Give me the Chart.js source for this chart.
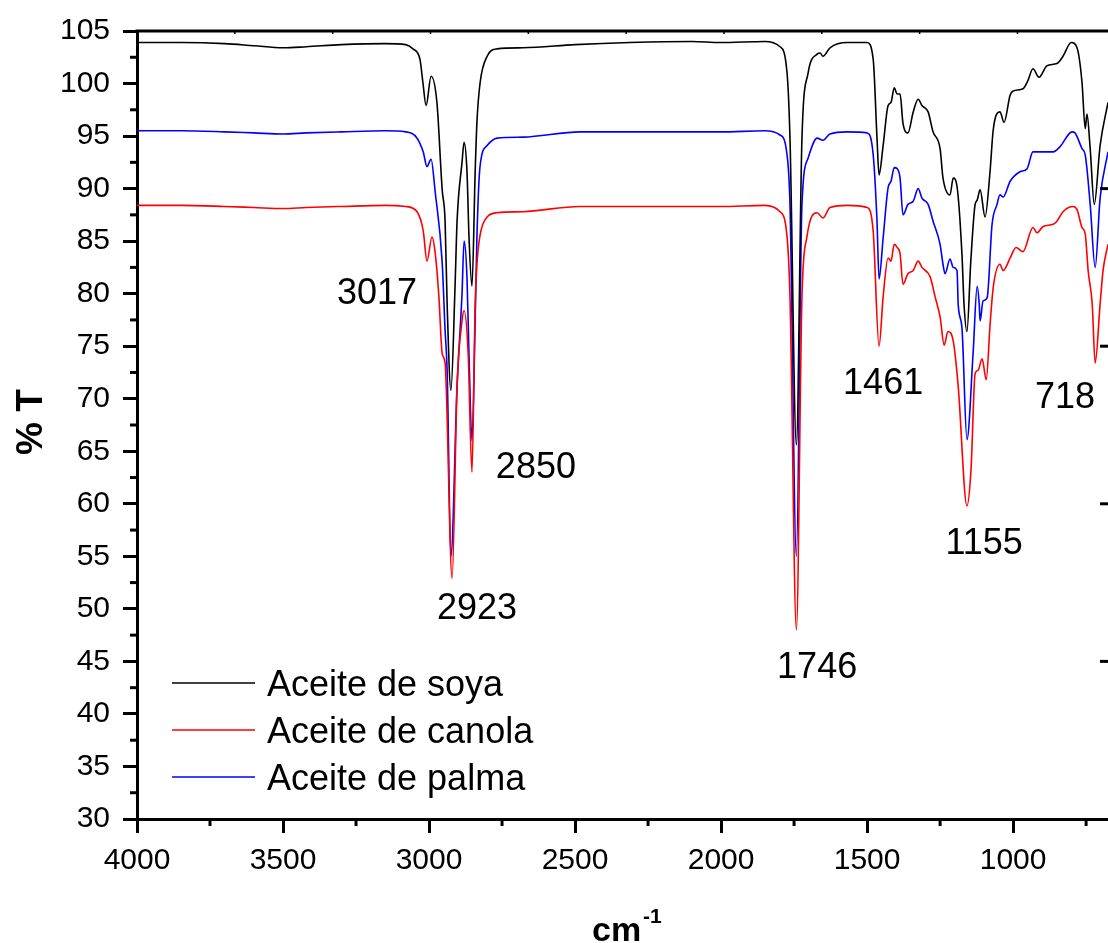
<!DOCTYPE html>
<html>
<head>
<meta charset="utf-8">
<script src="https://cdn.jsdelivr.net/npm/chart.js@4.4.1/dist/chart.umd.min.js"></script>
<style>
  html, body { margin: 0; padding: 0; background: #fff; overflow: hidden; }
  canvas { display: block; }
</style>
</head>
<body>
<canvas id="ftir" width="1108" height="943"></canvas>
<script>
// FTIR spectra of three vegetable oils (% transmittance vs wavenumber)

const FONT = '"Liberation Sans", Arial, sans-serif';

// tick values
const xTickValues = [4000, 3500, 3000, 2500, 2000, 1500, 1000];
const xMinorTicks = [3750, 3250, 2750, 2250, 1750, 1250, 750];
const topTicks = [3665, 3330, 2995, 2660, 2325, 1990, 1655, 1320, 985];
const rightTicks = [45, 60, 75, 90];

// Aceite de soya (black)
const soyaX = [4000, 3850, 3700, 3600, 3500, 3420, 3300, 3150, 3080, 3055, 3031, 3021, 3010, 2993, 2973, 2955, 2945, 2938, 2925, 2911, 2904, 2887, 2880, 2870, 2863, 2853, 2842, 2836, 2825, 2801, 2767, 2678, 2500, 2312, 2100, 2003, 1850, 1798, 1774, 1764, 1742, 1723, 1702, 1671, 1661, 1651, 1627, 1568, 1500, 1479, 1466, 1459, 1445, 1428, 1418, 1407, 1397, 1387, 1377, 1360, 1342, 1325, 1312, 1291, 1274, 1250, 1240, 1216, 1205, 1192, 1175, 1168, 1158, 1145, 1130, 1123, 1113, 1096, 1079, 1068, 1045, 1031, 1010, 1000, 966, 949, 932, 911, 884, 850, 829, 801, 781, 764, 753, 747, 736, 722, 702, 675];
const soyaY = [103.9, 103.9, 103.8, 103.6, 103.4, 103.5, 103.7, 103.8, 103.7, 103.3, 102.3, 100.1, 97.9, 100.7, 98.2, 89.9, 86.9, 79.0, 70.8, 80.6, 86.9, 92.5, 94.4, 91.6, 85.3, 80.7, 91.6, 96.3, 100.1, 102.6, 103.3, 103.4, 103.7, 103.9, 104.0, 103.9, 104.0, 103.5, 101.0, 94.8, 65.6, 94.8, 101.0, 102.8, 102.9, 102.6, 103.4, 103.9, 103.9, 102.3, 94.8, 91.3, 94.1, 97.9, 98.2, 99.6, 99.0, 99.0, 96.2, 95.3, 97.3, 98.5, 97.9, 97.3, 95.4, 93.8, 91.0, 89.4, 91.0, 90.2, 83.7, 79.0, 76.4, 83.0, 88.5, 88.9, 89.9, 87.3, 91.6, 95.6, 97.3, 96.3, 98.9, 99.3, 99.5, 100.3, 101.4, 100.6, 101.7, 101.9, 102.6, 103.9, 103.4, 100.1, 95.7, 97.1, 93.8, 88.5, 94.1, 98.2];

// Aceite de canola (red)
const canolaX = [4000, 3850, 3700, 3600, 3500, 3420, 3300, 3150, 3080, 3041, 3020, 3007, 2990, 2979, 2966, 2955, 2945, 2921, 2904, 2887, 2880, 2866, 2853, 2842, 2836, 2825, 2801, 2767, 2678, 2483, 2312, 2003, 1850, 1798, 1774, 1764, 1742, 1723, 1706, 1671, 1651, 1627, 1568, 1500, 1479, 1459, 1445, 1428, 1418, 1407, 1397, 1387, 1377, 1360, 1342, 1325, 1312, 1284, 1267, 1250, 1236, 1223, 1205, 1188, 1158, 1144, 1130, 1120, 1106, 1092, 1079, 1068, 1045, 1034, 1010, 990, 966, 932, 918, 897, 863, 850, 829, 794, 781, 764, 753, 743, 729, 719, 702, 692, 675];
const canolaY = [88.4, 88.4, 88.3, 88.2, 88.1, 88.2, 88.3, 88.4, 88.3, 87.8, 86.0, 83.1, 85.4, 83.9, 79.6, 74.3, 73.4, 52.9, 71.2, 77.4, 78.4, 74.3, 63.0, 79.0, 82.8, 85.6, 87.3, 87.7, 87.8, 88.3, 88.3, 88.3, 88.4, 87.8, 85.4, 79.7, 48.0, 79.7, 85.4, 87.7, 87.2, 88.2, 88.4, 88.2, 85.9, 75.0, 79.7, 83.4, 83.1, 84.7, 84.4, 83.8, 80.9, 81.9, 82.2, 83.1, 82.5, 81.6, 79.7, 77.8, 75.1, 76.4, 75.5, 71.2, 59.8, 63.3, 72.4, 72.7, 73.8, 71.8, 77.0, 80.6, 82.8, 82.2, 83.4, 84.4, 84.0, 86.3, 85.8, 86.4, 86.6, 86.9, 87.8, 88.3, 88.0, 86.3, 85.7, 82.2, 79.0, 73.4, 79.0, 82.2, 84.7];

// Aceite de palma (blue)
const palmaX = [4000, 3850, 3700, 3600, 3500, 3420, 3300, 3150, 3080, 3041, 3020, 3007, 2993, 2979, 2955, 2945, 2938, 2925, 2904, 2887, 2880, 2870, 2863, 2853, 2842, 2836, 2825, 2801, 2767, 2678, 2483, 2312, 2003, 1850, 1798, 1774, 1764, 1742, 1723, 1702, 1671, 1651, 1627, 1568, 1500, 1479, 1466, 1459, 1445, 1428, 1418, 1407, 1397, 1387, 1377, 1360, 1342, 1325, 1312, 1291, 1274, 1250, 1240, 1233, 1216, 1205, 1192, 1188, 1175, 1158, 1137, 1123, 1116, 1113, 1103, 1089, 1072, 1055, 1045, 1034, 1010, 976, 952, 932, 884, 863, 839, 798, 788, 764, 753, 736, 719, 702, 675];
const palmaY = [95.5, 95.5, 95.4, 95.3, 95.2, 95.3, 95.4, 95.5, 95.4, 94.8, 93.5, 92.1, 92.8, 89.7, 83.0, 76.5, 72.7, 55.0, 71.2, 80.0, 85.0, 81.5, 74.0, 66.0, 77.4, 85.4, 92.2, 94.1, 94.8, 94.9, 95.4, 95.4, 95.4, 95.5, 95.1, 93.2, 88.5, 55.0, 88.5, 92.9, 94.8, 94.6, 95.2, 95.4, 95.3, 93.2, 86.9, 81.4, 85.3, 90.1, 90.7, 92.0, 91.9, 91.0, 87.5, 88.5, 88.8, 90.0, 89.1, 88.5, 86.9, 84.7, 82.8, 81.9, 83.3, 82.5, 82.2, 79.0, 76.7, 66.1, 74.3, 80.7, 79.0, 77.4, 79.3, 79.6, 86.6, 88.5, 89.4, 89.2, 90.7, 91.6, 91.9, 93.5, 93.5, 93.5, 94.0, 95.4, 95.3, 93.8, 93.2, 88.5, 82.5, 89.1, 93.5];

// peak annotations: text, wavenumber, %T of the label centre
const peakText = ['3017', '2923', '2850', '1746', '1461', '1155', '718'];
const peakX = [3178, 2836, 2634, 1671, 1445, 1099, 822];
const peakY = [80.3, 50.3, 63.7, 44.7, 71.7, 56.5, 70.4];

function toPoints(xs, ys) {
    return xs.map((x, i) => ({ x: x, y: ys[i] }));
}

const series = [
    { label: 'Aceite de soya', color: '#000000', data: toPoints(soyaX, soyaY) },
    { label: 'Aceite de canola', color: '#ff0000', data: toPoints(canolaX, canolaY) },
    { label: 'Aceite de palma', color: '#0000ff', data: toPoints(palmaX, palmaY) }
];

// Axis frame extras, minor ticks, legend, titles and peak labels
const decorPlugin = {
    id: 'decor',
    afterDraw(chart) {
        const ctx = chart.ctx;
        const area = chart.chartArea;
        const xs = chart.scales.x;
        const ys = chart.scales.y;
        ctx.save();
        ctx.strokeStyle = '#000';
        ctx.lineWidth = 3;

        // top frame line
        ctx.beginPath();
        ctx.moveTo(area.left - 1.5, area.top);
        ctx.lineTo(area.right, area.top);
        ctx.stroke();

        // minor ticks on y
        for (let v = 32.5; v < 105; v += 5) {
            const py = ys.getPixelForValue(v);
            ctx.beginPath();
            ctx.moveTo(area.left - 7, py);
            ctx.lineTo(area.left, py);
            ctx.stroke();
        }
        // minor ticks on x
        xMinorTicks.forEach(v => {
            const px = xs.getPixelForValue(v);
            ctx.beginPath();
            ctx.moveTo(px, area.bottom);
            ctx.lineTo(px, area.bottom + 7);
            ctx.stroke();
        });
        // inward ticks of the (cut off) right axis
        rightTicks.forEach(v => {
            const py = ys.getPixelForValue(v);
            ctx.beginPath();
            ctx.moveTo(area.right - 8, py);
            ctx.lineTo(area.right + 2, py);
            ctx.stroke();
        });
        // tiny ticks under the top frame
        ctx.lineWidth = 1.5;
        topTicks.forEach(v => {
            const px = xs.getPixelForValue(v);
            ctx.beginPath();
            ctx.moveTo(px, area.top);
            ctx.lineTo(px, area.top + 3);
            ctx.stroke();
        });

        // legend
        ctx.fillStyle = '#000';
        ctx.font = '36px ' + FONT;
        ctx.textAlign = 'left';
        ctx.textBaseline = 'alphabetic';
        chart.data.datasets.forEach((ds, i) => {
            const y = 683 + i * 47;
            ctx.strokeStyle = ds.borderColor;
            ctx.lineWidth = 1.5;
            ctx.beginPath();
            ctx.moveTo(172, y);
            ctx.lineTo(255, y);
            ctx.stroke();
            ctx.fillText(ds.label, 267, y + 13);
        });

        // peak labels
        ctx.textAlign = 'center';
        peakText.forEach((t, i) => {
            ctx.fillText(t, xs.getPixelForValue(peakX[i]), ys.getPixelForValue(peakY[i]) + 13);
        });

        // y title
        ctx.save();
        ctx.translate(42, 422);
        ctx.rotate(-Math.PI / 2);
        ctx.font = 'bold 37px ' + FONT;
        ctx.textAlign = 'center';
        ctx.fillText('% T', 0, 0);
        ctx.restore();

        // x title with superscript
        ctx.textAlign = 'left';
        ctx.font = 'bold 34px ' + FONT;
        ctx.fillText('cm', 592, 941);
        ctx.font = 'bold 21px ' + FONT;
        ctx.fillText('-1', 643, 923);

        ctx.restore();
    }
};

new Chart(document.getElementById('ftir'), {
    type: 'line',
    data: {
        datasets: series.map(s => ({
            label: s.label,
            data: s.data,
            borderColor: s.color,
            borderWidth: 1.6,
            pointRadius: 0,
            fill: false,
            cubicInterpolationMode: 'monotone'
        }))
    },
    options: {
        responsive: false,
        animation: false,
        layout: { padding: { top: 25, right: 0, bottom: 0, left: 0 } },
        plugins: {
            legend: { display: false },
            tooltip: { enabled: false }
        },
        scales: {
            x: {
                type: 'linear',
                reverse: true,
                min: 675,
                max: 4000,
                afterFit: s => { s.height = 124; },
                afterBuildTicks: s => { s.ticks = xTickValues.map(v => ({ value: v })); },
                ticks: {
                    autoSkip: false,
                    maxRotation: 0,
                    color: '#000',
                    padding: 10,
                    font: { family: FONT, size: 30 },
                    callback: v => String(v)
                },
                grid: { drawOnChartArea: false, tickLength: 14, tickWidth: 3, tickColor: '#000' },
                border: { display: true, width: 3, color: '#000' }
            },
            y: {
                min: 30,
                max: 105,
                afterFit: s => { s.width = 137; },
                ticks: {
                    stepSize: 5,
                    color: '#000',
                    padding: 13,
                    font: { family: FONT, size: 30 }
                },
                grid: { drawOnChartArea: false, tickLength: 14, tickWidth: 3, tickColor: '#000' },
                border: { display: true, width: 3, color: '#000' }
            }
        }
    },
    plugins: [decorPlugin]
});
</script>
</body>
</html>
